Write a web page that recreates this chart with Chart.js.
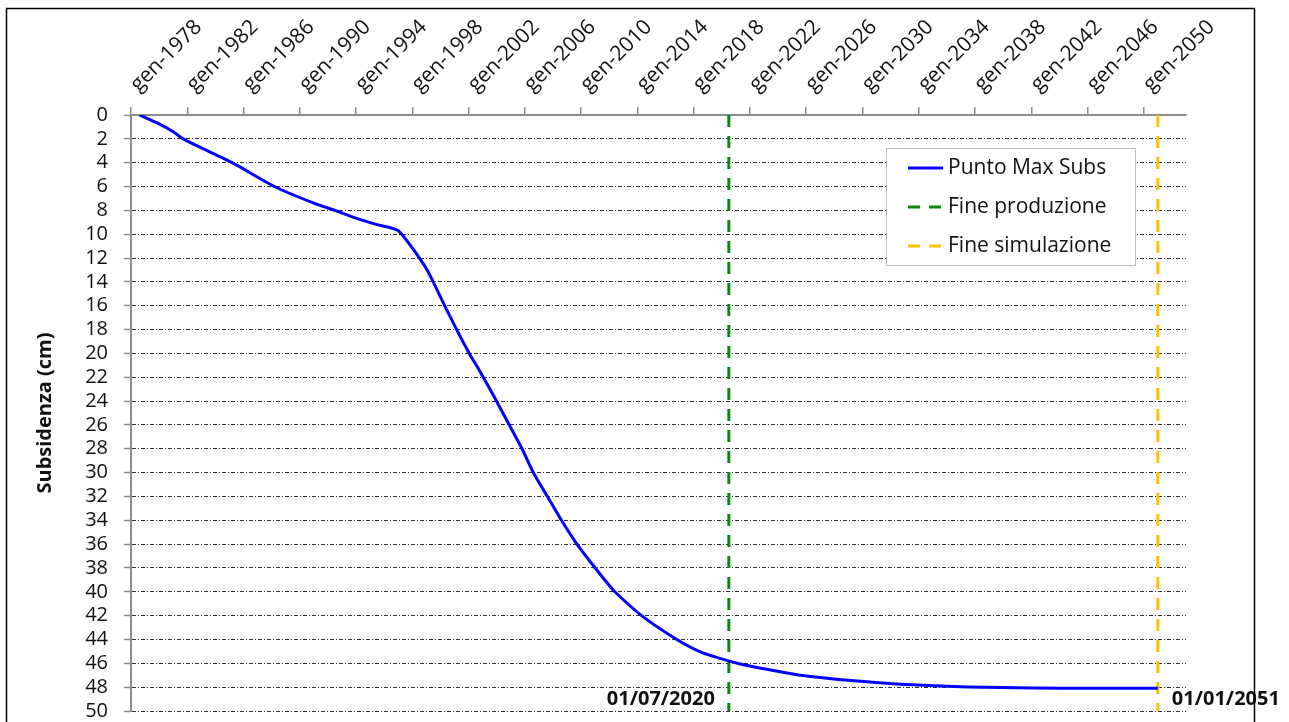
<!DOCTYPE html>
<html>
<head>
<meta charset="utf-8">
<script src="https://cdn.jsdelivr.net/npm/chart.js@4.4.1/dist/chart.umd.min.js"></script>
<style>
  html, body { margin: 0; padding: 0; background: #fff; }
  #wrap { width: 1289px; height: 722px; }
</style>
</head>
<body>
<div id="wrap"><canvas id="subsChart" width="1289" height="722"></canvas></div>
<script>
// Dati (anno decimale, subsidenza in cm)
var years = [1978.6, 1980.0, 1981.0, 1981.7, 1982.9, 1985.2, 1988.2, 1991.0, 1992.5, 1994.1,
             1995.5, 1997.0, 1999.0, 2000.3, 2001.15, 2002.05, 2002.8, 2003.8, 2004.8, 2005.8,
             2006.6, 2007.6, 2008.6, 2009.7, 2011.0, 2012.4, 2014.3, 2016.8, 2018.6, 2020.5,
             2021.3, 2023.2, 2025.6, 2029.2, 2032.7, 2037.5, 2042.2, 2046.0, 2051.0];
var subsidence = [0, 0.75, 1.4, 2.0, 2.7, 4.0, 6.0, 7.4, 8.0, 8.7,
                  9.2, 9.7, 12.9, 16.0, 18.0, 20.0, 21.5, 23.6, 25.8, 28.0,
                  30.0, 32.0, 34.0, 36.0, 38.0, 40.0, 42.0, 44.0, 45.1, 45.8,
                  46.05, 46.5, 47.0, 47.45, 47.75, 47.98, 48.08, 48.1, 48.1];
var tickYears = [1978, 1982, 1986, 1990, 1994, 1998, 2002, 2006, 2010, 2014,
                 2018, 2022, 2026, 2030, 2034, 2038, 2042, 2046, 2050];
var fineProduzione = 2020.5;
var fineSimulazione = 2051.0;
var seriesLabels = ['Punto Max Subs', 'Fine produzione', 'Fine simulazione'];
var dateLabels = ['01/07/2020', '01/01/2051'];

var fontFamily = '"Open Sans", "Noto Sans", sans-serif';

// Legenda nel riquadro
var legendPlugin = {
    id: 'boxLegend',
    afterDatasetsDraw: function(chart) {
        var ctx = chart.ctx, area = chart.chartArea;
        var bx = area.right - 300, by = area.top + 33, bw = 249, bh = 117;
        ctx.save();
        ctx.fillStyle = '#fff';
        ctx.fillRect(bx, by, bw, bh);
        ctx.strokeStyle = '#c0c0c0';
        ctx.lineWidth = 1;
        ctx.strokeRect(bx + 0.5, by + 0.5, bw, bh);
        ctx.font = '21px ' + fontFamily;
        ctx.textBaseline = 'middle';
        chart.data.datasets.forEach(function(ds, i) {
            var ly = by + 20 + i * 39;
            ctx.beginPath();
            ctx.strokeStyle = ds.borderColor;
            ctx.lineWidth = 3;
            ctx.setLineDash(ds.borderDash || []);
            ctx.moveTo(bx + 22, ly);
            ctx.lineTo(bx + 57, ly);
            ctx.stroke();
            ctx.setLineDash([]);
            ctx.fillStyle = '#111';
            ctx.fillText(ds.label, bx + 62, ly);
        });
        ctx.restore();
    }
};

// Date e cornice esterna
var framePlugin = {
    id: 'frame',
    afterDraw: function(chart) {
        var ctx = chart.ctx, x = chart.scales.x, y = chart.scales.y;
        ctx.save();
        ctx.font = 'bold 20px ' + fontFamily;
        ctx.fillStyle = '#111';
        ctx.textBaseline = 'middle';
        var ty = y.getPixelForValue(49.0);
        ctx.textAlign = 'right';
        ctx.fillText(dateLabels[0], x.getPixelForValue(fineProduzione) - 14, ty);
        ctx.textAlign = 'left';
        ctx.fillText(dateLabels[1], x.getPixelForValue(fineSimulazione) + 14, ty);
        ctx.strokeStyle = '#000';
        ctx.lineWidth = 1.5;
        ctx.strokeRect(6.5, 8.5, 1248, 760);
        ctx.restore();
    }
};

var ctx = document.getElementById('subsChart');

var chartData = {
    datasets: [{
        label: seriesLabels[0],
        data: years.map(function(v, i) { return {x: v, y: subsidence[i]}; }),
        borderColor: '#0000ff',
        borderWidth: 3,
        pointRadius: 0,
        tension: 0.2
    }, {
        label: seriesLabels[1],
        data: [{x: fineProduzione, y: 0}, {x: fineProduzione, y: 50}],
        borderColor: '#0a8a0a',
        borderWidth: 3,
        borderDash: [12, 9],
        pointRadius: 0
    }, {
        label: seriesLabels[2],
        data: [{x: fineSimulazione, y: 0}, {x: fineSimulazione, y: 50}],
        borderColor: '#ffc000',
        borderWidth: 3,
        borderDash: [12, 9],
        pointRadius: 0
    }]
};

var chartOptions = {
    responsive: false,
    animation: false,
    layout: { padding: { left: 0, top: 0, right: 103, bottom: 11 } },
    plugins: { legend: { display: false }, tooltip: { enabled: false } },
    scales: {
        x: {
            type: 'linear',
            position: 'top',
            min: 1978,
            max: 2053,
            afterBuildTicks: function(scale) {
                scale.ticks = tickYears.map(function(v) { return {value: v}; });
            },
            afterFit: function(scale) {
                scale.height = 115;
                scale.paddingLeft = 0;
                scale.paddingRight = 0;
            },
            ticks: {
                callback: function(v) { return 'gen-' + v; },
                minRotation: 45,
                maxRotation: 45,
                autoSkip: false,
                padding: 10,
                labelOffset: 21,
                color: '#111',
                font: { family: fontFamily, size: 21 }
            },
            grid: { drawOnChartArea: false, drawTicks: true, tickLength: 8, color: '#8c8c8c', lineWidth: 1.5 },
            border: { color: '#8c8c8c', width: 2 }
        },
        y: {
            type: 'linear',
            reverse: true,
            min: 0,
            max: 50,
            afterFit: function(scale) {
                scale.width = 131;
                scale.paddingTop = 0;
                scale.paddingBottom = 0;
            },
            ticks: {
                stepSize: 2,
                autoSkip: false,
                padding: 16,
                color: '#111',
                font: { family: fontFamily, size: 20 }
            },
            grid: { color: '#333', lineWidth: 1, tickLength: 7, tickColor: '#8c8c8c', tickWidth: 1.5, tickBorderDash: [] },
            border: { color: '#8c8c8c', width: 2, dash: [4, 2, 1, 2] },
            title: {
                display: true,
                text: 'Subsidenza (cm)',
                color: '#111',
                font: { family: fontFamily, size: 20, weight: 'bold' },
                padding: { top: 33, bottom: 0 }
            }
        }
    }
};

var subsChart = new Chart(ctx, {
    type: 'line',
    data: chartData,
    options: chartOptions,
    plugins: [legendPlugin, framePlugin]
});
</script>
</body>
</html>
